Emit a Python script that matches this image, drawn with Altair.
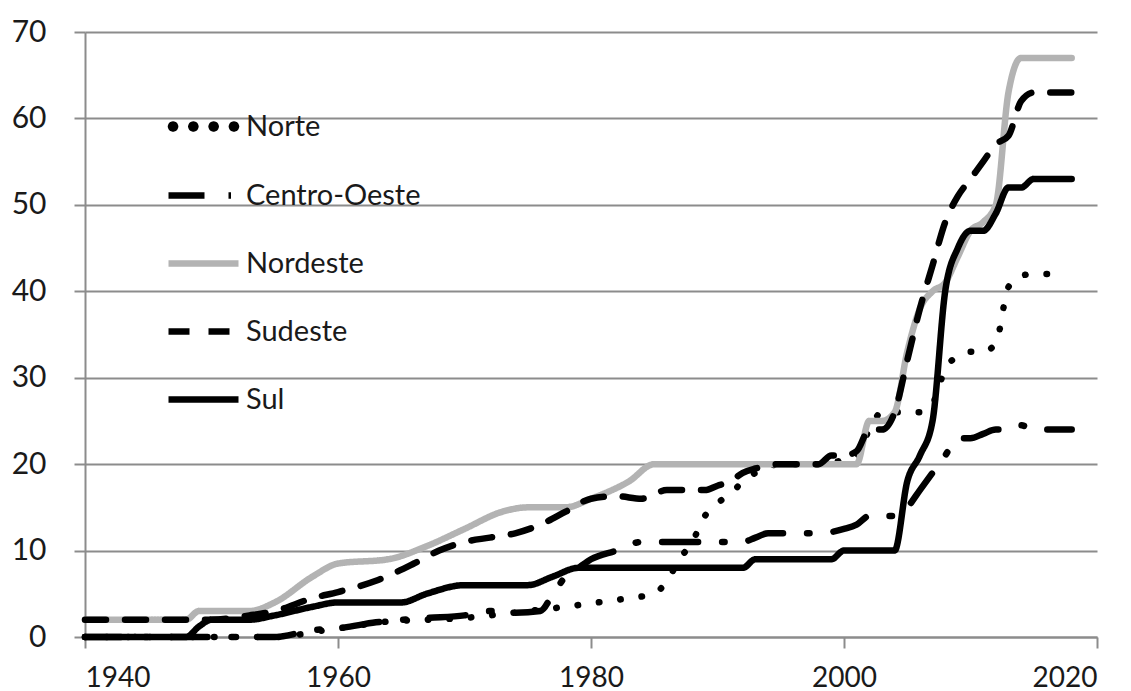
import altair as alt
import pandas as pd
import math

series_names = ["Norte", "Centro-Oeste", "Nordeste", "Sudeste", "Sul"]

norte_years = [1940,1950,1955,1957,1959,1961,1964,1967,1970,1972,1975,1978,1980,1983,1985,1986,1987,1988,1989,1990,1991,1992,1993,1995,1998,2000,2001,2002,2003,2004,2005,2006,2007,2008,2009,2010,2011,2012,2013,2014,2015,2016,2017]
norte_values = [0,0,0,0.3,0.8,1.2,1.8,2,2.2,2.5,3,3.5,3.9,4.5,5,6.5,9,11,14,15.5,16.5,18,19,20,20,20.5,21,24,26,26,26,26,27,31,32.5,33,33,34,40.5,41.8,42,42,42]

co_years = [1940,1950,1955,1958,1960,1963,1967,1970,1972,1974,1976,1977,1978,1979,1980,1982,1984,1986,1990,1992,1993,1994,1998,2000,2001,2002,2003,2004,2005,2006,2007,2008,2009,2010,2011,2012,2013,2014,2015,2016,2017,2018]
co_values = [0,0,0,0.8,1,1.7,2.2,2.5,3,2.8,3,5,7,8,9,10,11,11,11,11,11.5,12,12,12.5,13,14,14,14,15,17,19,21,23,23,23.5,24,24,24.5,24,24,24,24]

nordeste_years = [1940,1945,1948,1949,1953,1955,1958,1960,1964,1967,1970,1973,1975,1978,1980,1983,1985,1990,1995,2000,2001,2002,2003,2004,2005,2006,2007,2008,2009,2010,2011,2012,2013,2014,2015,2016,2017,2018]
nordeste_values = [2,2,2,3,3,4,7,8.5,9,10.5,12.5,14.5,15,15,16,18,20,20,20,20,20,25,25,26,33,38,40,41,44,47,48,50,63,67,67,67,67,67]

sudeste_years = [1940,1945,1950,1953,1955,1958,1960,1963,1966,1968,1970,1972,1974,1976,1978,1980,1982,1984,1986,1989,1990,1991,1992,1993,1995,1998,1999,2000,2001,2002,2003,2004,2005,2006,2007,2008,2009,2010,2011,2012,2013,2014,2015,2016,2017,2018]
sudeste_values = [2,2,2,2.5,3,4.5,5.2,6.5,8.5,10,11,11.5,12,13,14.5,16,16.3,16,17,17,17.5,18,19,19.5,20,20,21,21,21.5,24,24,26,32,38,43,48,51,53,55,57,58,62,63,63,63,63]

sul_years = [1940,1948,1949,1950,1953,1955,1958,1960,1962,1965,1967,1970,1973,1975,1977,1979,1980,1985,1990,1992,1993,1995,1998,1999,2000,2002,2003,2004,2005,2006,2007,2008,2009,2010,2011,2012,2013,2014,2015,2016,2017,2018]
sul_values = [0,0,1.2,2,2,2.5,3.5,4,4,4,5,6,6,6,7,8,8,8,8,8,9,9,9,9,10,10,10,10,18,21,25,40,45,47,47,49,52,52,53,53,53,53]

x_ticks = [1940, 1960, 1980, 2000, 2020]
y_ticks = [0, 10, 20, 30, 40, 50, 60, 70]

colors = ["#000000", "#000000", "#b3b3b3", "#000000", "#000000"]
dashes = [[0.5, 21], [36, 24, 2.5, 24], [1, 0], [21, 19], [1, 0]]
widths = [7.5, 5.5, 7.5, 6.5, 6.5]

frames = []
for name, ys, vs in [
    ("Norte", norte_years, norte_values),
    ("Centro-Oeste", co_years, co_values),
    ("Nordeste", nordeste_years, nordeste_values),
    ("Sudeste", sudeste_years, sudeste_values),
    ("Sul", sul_years, sul_values),
]:
    frames.append(pd.DataFrame({"ano": ys, "valor": vs, "regiao": name}))
df = pd.concat(frames, ignore_index=True)

FONT = "Lato"

# dotted legend symbol: four small round dots, each drawn as concentric octagons
def _octagon(cx, r):
    pts = [(cx + r * math.cos(k * math.pi / 4), r * math.sin(k * math.pi / 4)) for k in range(8)]
    return "M" + "L".join(f"{x:.4f},{y:.4f}" for x, y in pts) + "Z"

dots_path = "".join(
    _octagon(c, r) for c in [-0.87, -0.29, 0.29, 0.87] for r in [0.06, 0.03]
)

legend_main = alt.Legend(
    title=None, orient="none", legendX=80, legendY=125,
    values=series_names[1:],
    symbolType="stroke", symbolSize=4900, symbolStrokeWidth=6.5,
    labelFont=FONT, labelFontSize=29, labelColor="#1a1a1a", labelLimit=400,
    labelOffset=4, rowPadding=14, padding=0,
)
legend_norte = alt.Legend(
    title=None, orient="none", legendX=80, legendY=56,
    values=["Norte"],
    symbolType=dots_path, symbolSize=4900, symbolStrokeWidth=1.2,
    symbolStrokeColor="#000000", symbolFillColor="#000000",
    labelFont=FONT, labelFontSize=29, labelColor="#1a1a1a", labelLimit=400,
    labelOffset=4, padding=0,
)

x_enc = alt.X(
    "ano:Q",
    scale=alt.Scale(domain=[1940, 2020], nice=False, zero=False),
    axis=alt.Axis(
        values=x_ticks, format="d", grid=False, title=None,
        labelFont=FONT, labelFontSize=28, labelColor="#1a1a1a",
        tickSize=11, tickColor="#8c8c8c", tickWidth=2,
        domainColor="#8c8c8c", domainWidth=2, labelPadding=16,
    ),
)
y_enc = alt.Y(
    "valor:Q",
    scale=alt.Scale(domain=[0, 70], nice=False),
    axis=alt.Axis(
        values=y_ticks, grid=True, gridColor="#8c8c8c", gridWidth=2, title=None,
        labelFont=FONT, labelFontSize=30, labelColor="#1a1a1a",
        tickSize=11, tickColor="#8c8c8c", tickWidth=2,
        domainColor="#8c8c8c", domainWidth=2, labelPadding=28,
    ),
)
color_enc = alt.Color("regiao:N", scale=alt.Scale(domain=series_names, range=colors), legend=legend_main)
dash_enc = alt.StrokeDash("regiao:N", scale=alt.Scale(domain=series_names, range=dashes), legend=legend_main)
width_enc = alt.StrokeWidth(
    "regiao:N",
    scale=alt.Scale(domain=series_names[::-1], range=widths[::-1]),
    legend=legend_norte,
)

layers = []
for name in series_names:
    layers.append(
        alt.Chart(df)
        .transform_filter(alt.datum.regiao == name)
        .mark_line(interpolate="monotone")
        .encode(x=x_enc, y=y_enc, color=color_enc, strokeDash=dash_enc, strokeWidth=width_enc)
    )

chart = (
    alt.layer(*layers)
    .properties(
        width=1012, height=605,
        autosize=alt.AutoSizeParams(type="none"),
        padding={"left": 85, "top": 32, "right": 34, "bottom": 54},
        background="white",
    )
    .configure_view(stroke=None)
    .configure_mark(color="#000000")
    .configure_line(strokeCap="round", strokeJoin="round", color="#000000")
)

chart.save("out.html", embed_options={"renderer": "svg", "actions": False})
